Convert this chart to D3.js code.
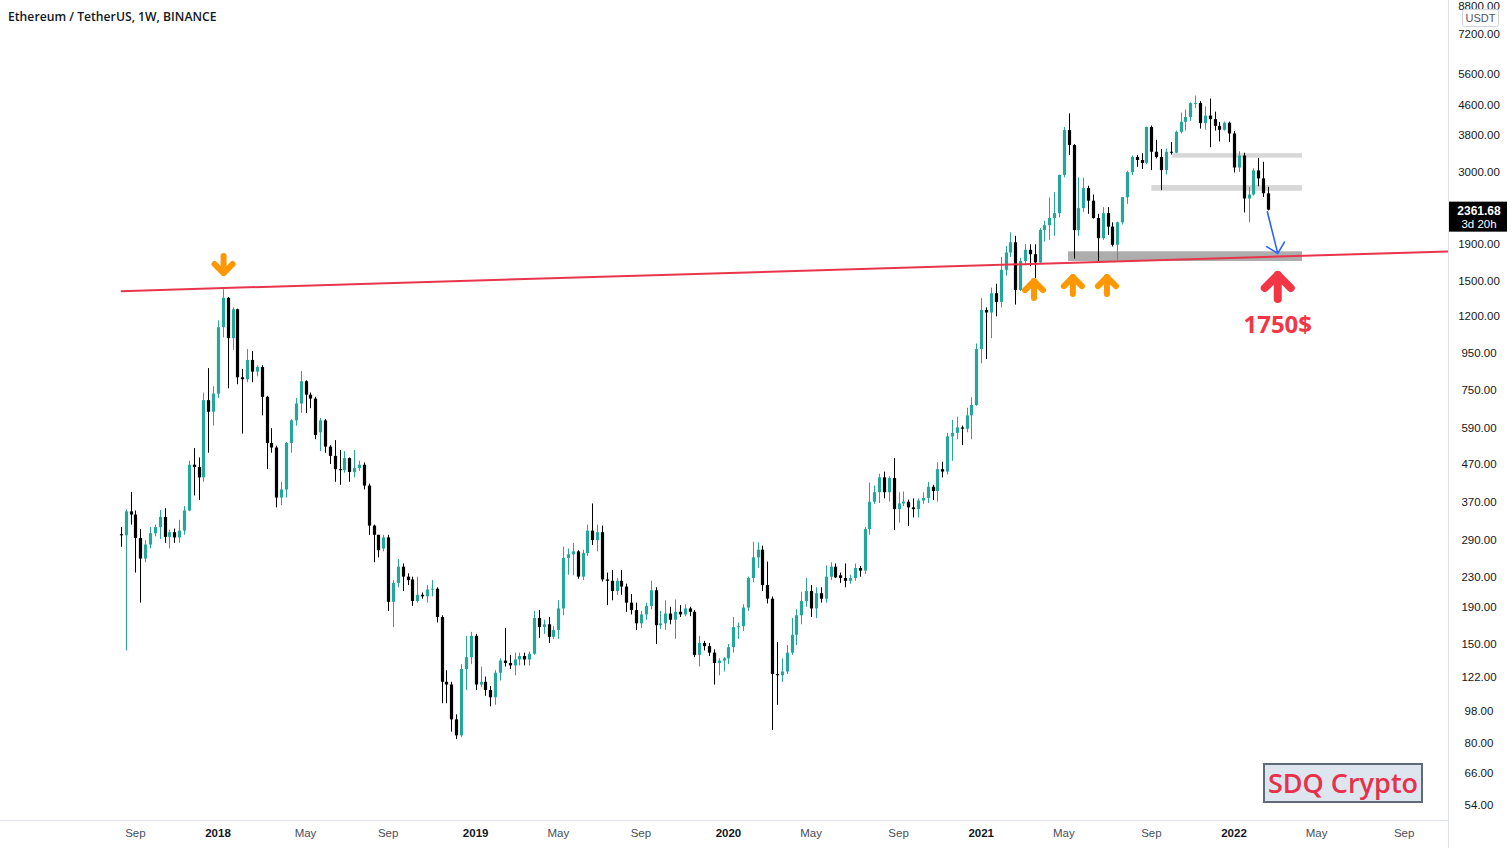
<!DOCTYPE html>
<html><head><meta charset="utf-8">
<script src="https://cdn.jsdelivr.net/npm/d3@7"></script>
<style>html,body{margin:0;padding:0;background:#fff;overflow:hidden}svg{display:block}</style>
</head><body>
<svg id="chart" width="1512" height="848"></svg>
<script>
// ---------------- DATA ----------------
const chartTitle = "Ethereum / TetherUS, 1W, BINANCE";
const firstWeek = "2017-08-14";           // Monday of the first weekly candle
// weekly candles [open, high, low, close], consecutive weeks
const candles2017 = [
 [301,315,278,299],[299,352,144,348],[348,394,320,341],[341,350,236,294],[294,311,195,258],
 [258,290,252,282],[282,315,275,303],[303,320,297,315],[315,351,292,336],[336,355,285,296],
 [296,310,275,305],[305,312,285,295],[295,330,285,308],[308,360,300,350],[350,480,348,468],
 [468,520,385,461],[461,490,374,432],[432,740,420,705],[705,864,505,655],[655,770,600,735]];
const candles2018 = [
 [735,1170,715,1120],[1120,1425,1050,1350],[1350,1355,760,1045],[1045,1270,970,1255],[1255,1260,780,815],
 [815,860,570,805],[805,975,790,910],[910,963,790,845],[845,880,820,870],[870,880,640,720],
 [720,725,455,537],[537,590,505,522],[522,528,357,380],[380,420,362,400],[400,540,380,537],
 [537,625,505,620],[620,715,600,690],[690,848,650,795],[795,800,650,730],[730,740,670,712],
 [712,720,550,565],[575,630,510,620],[620,625,505,525],[525,530,470,495],[495,547,420,455],
 [455,514,412,452],[452,510,445,488],[488,490,420,447],[447,514,432,458],[458,480,450,468],
 [468,475,400,410],[410,415,300,318],[318,320,252,300],[300,300,260,272],[275,300,270,295],
 [295,300,185,196],[196,225,167,221],[221,257,215,245],[245,250,210,230],[230,235,218,225],
 [226,230,191,197],[197,230,195,205],[205,208,200,203],[203,218,195,212],[212,225,203,213],
 [213,215,172,178],[178,180,103,118],[118,127,103,116],[116,118,86,93],[93,96,82,84],
 [84,132,83,128],[128,158,112,138],[138,162,132,158]];
const candles2019 = [
 [158,160,112,116],[116,130,114,118],[118,122,108,112],[112,115,101,107],[107,127,102,125],
 [125,137,119,135],[135,166,130,133],[133,140,128,131],[131,142,123,136],[136,142,131,139],
 [139,142,131,136],[136,143,131,141],[141,185,140,177],[177,186,156,167],[167,175,160,170],
 [170,178,151,157],[157,168,155,164],[164,198,155,188],[188,278,180,259],[259,275,233,265],
 [265,285,232,270],[270,272,227,230],[230,273,225,267],[267,320,262,308],[308,366,281,290],
 [290,320,270,305],[305,318,223,226],[226,236,192,224],[224,240,198,210],[210,228,205,224],
 [224,240,205,216],[216,220,184,195],[195,206,181,186],[186,195,164,171],[171,185,166,181],
 [181,195,175,191],[191,224,187,211],[211,215,150,169],[169,185,165,171],[171,198,164,182],
 [182,190,170,175],[175,199,155,184],[184,192,178,181],[181,193,179,188],[188,190,179,184],
 [184,186,138,140],[140,158,130,151],[151,153,144,148],[148,151,139,142],[142,145,116,133],
 [133,137,123,135],[135,138,126,137]];
const candles2020 = [
 [137,150,132,147],[147,178,142,167],[167,172,155,168],[168,193,163,189],[189,230,185,228],
 [228,287,222,260],[260,286,243,273],[273,280,210,218],[218,253,194,200],[200,203,87,124],
 [124,152,102,123],[123,137,118,126],[126,149,124,142],[142,177,140,159],[159,187,149,180],
 [180,209,170,197],[197,228,190,210],[210,218,178,188],[188,215,177,207],[207,215,195,200],
 [200,247,195,230],[230,252,225,245],[245,250,228,229],[232,236,221,228],[228,250,215,224],
 [224,233,220,228],[228,250,224,243],[243,246,230,239],[239,315,234,311],[311,418,300,370],
 [370,410,365,393],[393,442,367,432],[432,448,378,393],[393,435,370,430],[430,488,309,353],
 [353,393,324,366],[366,395,360,370],[370,375,317,357],[357,378,335,353],[353,378,335,373],
 [373,393,365,379],[379,420,367,407],[407,412,374,396],[396,475,370,455],[455,477,432,448],
 [448,573,440,560],[560,622,480,573],[573,635,550,593],[593,600,530,588],[588,672,575,640],
 [640,718,550,684],[684,1010,680,975]];
const candles2021 = [
 [975,1347,890,1250],[1250,1270,915,1230],[1230,1440,1045,1390],[1390,1476,1200,1315],[1315,1750,1270,1612],
 [1612,1875,1555,1800],[1800,2045,1750,1920],[1920,2000,1293,1418],[1418,1740,1410,1705],[1705,1900,1660,1830],
 [1830,1895,1650,1780],[1780,1895,1530,1690],[1690,2100,1680,2075],[2075,2200,1930,2140],[2140,2550,1950,2240],
 [2240,2640,2000,2310],[2310,2950,2250,2944],[2944,3990,2900,3913],[3913,4350,3340,3560],[3560,3580,1730,2074],
 [2074,2900,2000,2385],[2385,2890,2330,2707],[2707,2750,2300,2500],[2500,2600,2230,2240],[2240,2300,1700,1970],
 [1970,2400,1950,2310],[2310,2400,2010,2120],[2120,2180,1870,1890],[1890,2190,1718,2180],[2180,2560,2150,2556],
 [2556,3020,2450,2996],[2996,3330,2940,3300],[3300,3340,3100,3236],[3236,3380,3060,3178],[3178,4000,3150,3990],
 [3990,4030,3035,3410],[3410,3680,3270,3300],[3300,3470,2673,3035],[3035,3480,2950,3410],[3410,3630,3350,3390],
 [3390,3900,3380,3870],[3870,4375,3830,4125],[4125,4460,3900,4250],[4250,4665,4150,4643],[4643,4870,4500,4650],
 [4650,4700,3950,4090],[4090,4550,3920,4290],[4290,4780,3510,4195],[4195,4400,3900,4020],[4020,4120,3640,3920],
 [3920,4130,3900,4100],[4100,4130,3630,3830]];
const candles2022 = [
 [3830,3890,2990,3085],[3085,3420,3000,3330],[3330,3390,2320,2535],[2535,2730,2180,2600],[2600,3070,2580,3030],
 [3030,3280,2740,2880],[2880,3200,2560,2620],[2620,2730,2350,2361.68]];

const priceTicks = [8800,7200,5600,4600,3800,3000,1900,1500,1200,950,750,590,470,370,290,230,190,150,122,98,80,66,54];
const timeTickDates  = ["2017-09-04","2018-01-01","2018-05-07","2018-09-03","2019-01-07","2019-05-06","2019-09-02","2020-01-06","2020-05-04","2020-09-07","2021-01-04","2021-05-03","2021-09-06","2022-01-03","2022-05-02","2022-09-05"];
const timeTickLabels = ["Sep","2018","May","Sep","2019","May","Sep","2020","May","Sep","2021","May","Sep","2022","May","Sep"];
const currencyLabel = "USDT";
const lastPrice = 2361.68;
const barCountdown = "3d 20h";

// annotations in data units
const trendAnchorDates  = ["2017-08-14","2022-02-21"];
const trendAnchorPrices = [1408, 1750];
const zoneDates  = [["2021-10-06","2022-04-11"],["2021-09-06","2022-04-11"],["2021-05-09","2022-04-11"]];
const zonePrices = [[3285,3380],[2662,2760],[1705,1813]];
const downArrowDates = ["2018-01-09"];  const downArrowPrices = [1550];
const upArrowDates   = ["2021-03-21","2021-05-16","2021-07-04"]; const upArrowPrices = [1530,1569,1569];
const targetArrowDate = "2022-03-07"; const targetArrowPrice = 1600;
const targetLabel = "1750$"; const targetLabelPrice = 1080;
const projectionDates = ["2022-02-20","2022-03-07"]; const projectionPrices = [2330,1790];
const watermark = "SDQ Crypto";

// ---------------- CHART ----------------
const W = 1512, H = 848, plotRight = 1448, plotBottom = 820;
const parse = d3.utcParse("%Y-%m-%d");
const svg = d3.select("#chart");
svg.append("rect").attr("width",W).attr("height",H).attr("fill","#ffffff");

const allCandles = [].concat(candles2017,candles2018,candles2019,candles2020,candles2021,candles2022);
const t0 = parse(firstWeek);
const data = allCandles.map((c,i)=>({date:d3.utcDay.offset(t0,7*i),o:c[0],h:c[1],l:c[2],c:c[3]}));

const x = d3.scaleUtc().domain([parse("2017-08-14"), parse("2022-01-03")]).range([120.8, 1234]);
const y = d3.scaleLog().domain([54, 7200]).range([805, 34]);

svg.append("defs").append("clipPath").attr("id","plot")
  .append("rect").attr("x",0).attr("y",0).attr("width",plotRight).attr("height",plotBottom);
const plot = svg.append("g").attr("clip-path","url(#plot)");

// zones
const zoneFill = ["#d3d3d3","#d3d3d3","#a9a9a9"];
zoneDates.forEach((zd,i)=>{
  const x0 = x(parse(zd[0])), x1 = x(parse(zd[1]));
  const y0 = y(zonePrices[i][1]), y1 = y(zonePrices[i][0]);
  plot.append("rect").attr("x",x0).attr("y",y0).attr("width",x1-x0).attr("height",y1-y0)
    .attr("fill",zoneFill[i]).attr("opacity",i===2?0.95:0.9);
});

// candles
const up = "#26a69a", down = "#000000", bodyW = 3.2;
const cg = plot.append("g");
cg.selectAll("line").data(data).join("line")
  .attr("x1",d=>Math.round(x(d.date))+0.5).attr("x2",d=>Math.round(x(d.date))+0.5)
  .attr("y1",d=>y(d.h)).attr("y2",d=>y(d.l))
  .attr("stroke",d=>d.c>=d.o?up:down).attr("stroke-width",1);
cg.selectAll("rect").data(data).join("rect")
  .attr("x",d=>Math.round(x(d.date))+0.5-bodyW/2)
  .attr("width",bodyW)
  .attr("y",d=>y(Math.max(d.o,d.c)))
  .attr("height",d=>Math.max(1,Math.abs(y(d.o)-y(d.c))))
  .attr("fill",d=>d.c>=d.o?up:down);

// trend line (straight on log scale), extended to the right edge
const ta = trendAnchorDates.map(parse);
const lp = trendAnchorPrices.map(Math.log);
const priceAt = t => Math.exp(lp[0] + (lp[1]-lp[0])*(t-ta[0])/(ta[1]-ta[0]));
const tEnd = x.invert(plotRight);
plot.append("line")
  .attr("x1",x(ta[0])).attr("y1",y(priceAt(ta[0])))
  .attr("x2",x(tEnd)).attr("y2",y(priceAt(tEnd)))
  .attr("stroke","#e8354c").attr("stroke-width",2);

// arrows
function arrow(g, cx, tipY, dir, w, h, sw, color){
  const s = dir; // +1: pointing up, -1: pointing down
  const tip = tipY + s*sw/2;
  const base = tipY + s*(h - sw/2);
  const arm = tipY + s*(w/2);
  g.append("line").attr("x1",cx).attr("y1",tip).attr("x2",cx).attr("y2",base)
    .attr("stroke",color).attr("stroke-width",sw).attr("stroke-linecap","round");
  g.append("path").attr("d",`M${cx-w/2+sw/2},${arm}L${cx},${tip}L${cx+w/2-sw/2},${arm}`)
    .attr("fill","none").attr("stroke",color).attr("stroke-width",sw)
    .attr("stroke-linecap","round").attr("stroke-linejoin","round");
}
const ag = svg.append("g");
downArrowDates.forEach((d,i)=>arrow(ag, x(parse(d)), y(downArrowPrices[i]), -1, 24, 23, 6, "#ff9800"));
upArrowDates.forEach((d,i)=>arrow(ag, x(parse(d)), y(upArrowPrices[i]), 1, 24, 23, 6, "#ff9800"));
arrow(ag, x(parse(targetArrowDate)), y(targetArrowPrice), 1, 34, 32, 8, "#f23645");
ag.append("text").attr("x",x(parse(targetArrowDate))).attr("y",y(targetLabelPrice))
  .attr("text-anchor","middle").attr("font-family","Open Sans, sans-serif").attr("font-weight",700)
  .attr("font-size",24).attr("fill","#f23645").text(targetLabel);

// projection arrow
{
  const xa = x(parse(projectionDates[0])), ya = y(projectionPrices[0]);
  const xb = x(parse(projectionDates[1])), yb = y(projectionPrices[1]);
  const ang = Math.atan2(ya-yb, xa-xb), L = 13, sp = 45*Math.PI/180;
  ag.append("path")
    .attr("d",`M${xa},${ya}L${xb},${yb}M${xb+L*Math.cos(ang-sp)},${yb+L*Math.sin(ang-sp)}L${xb},${yb}L${xb+L*Math.cos(ang+sp)},${yb+L*Math.sin(ang+sp)}`)
    .attr("fill","none").attr("stroke","#2962ff").attr("stroke-width",1.6).attr("stroke-linecap","round");
}

// axes frame
svg.append("line").attr("x1",0).attr("x2",plotRight).attr("y1",plotBottom+0.5).attr("y2",plotBottom+0.5)
  .attr("stroke","#e0e3eb");
svg.append("line").attr("x1",plotRight+0.5).attr("x2",plotRight+0.5).attr("y1",0).attr("y2",H)
  .attr("stroke","#e0e3eb");

// price axis (topmost label nudged just inside the window)
const ya = svg.append("g").attr("font-family","Liberation Sans, Arial, sans-serif").attr("font-size",11.5).attr("fill","#131722");
ya.selectAll("text").data(priceTicks).join("text")
  .attr("x",1479).attr("y",d=>Math.max(6,y(d))).attr("dy","0.35em").attr("text-anchor","middle")
  .text(d=>d3.format(".2f")(d));
// currency box
svg.append("rect").attr("x",1462.5).attr("y",9.5).attr("width",36).attr("height",17).attr("rx",2)
  .attr("fill","#ffffff").attr("stroke","#d1d4dc");
svg.append("text").attr("x",1480.5).attr("y",22).attr("text-anchor","middle")
  .attr("font-family","Liberation Sans, Arial, sans-serif").attr("font-size",11).attr("fill","#50535e").text(currencyLabel);
// last price tag
{
  const py = y(lastPrice);
  svg.append("rect").attr("x",plotRight+1).attr("y",py-8).attr("width",58).attr("height",30).attr("fill","#000");
  svg.append("text").attr("x",1479).attr("y",py+5).attr("text-anchor","middle")
    .attr("font-family","Liberation Sans, Arial, sans-serif").attr("font-weight",700).attr("font-size",12)
    .attr("fill","#fff").text(d3.format(".2f")(lastPrice));
  svg.append("text").attr("x",1479).attr("y",py+18.5).attr("text-anchor","middle")
    .attr("font-family","Liberation Sans, Arial, sans-serif").attr("font-size",11.5)
    .attr("fill","#fff").text(barCountdown);
}

// time axis
const xa = svg.append("g").attr("font-family","Liberation Sans, Arial, sans-serif").attr("font-size",11.5);
xa.selectAll("text").data(timeTickDates).join("text")
  .attr("x",d=>x(parse(d))).attr("y",837).attr("text-anchor","middle")
  .attr("fill",(d,i)=>/^\d{4}$/.test(timeTickLabels[i])?"#131722":"#4a4e59")
  .attr("font-weight",(d,i)=>/^\d{4}$/.test(timeTickLabels[i])?600:400)
  .text((d,i)=>timeTickLabels[i]);

// title
svg.append("text").attr("x",8).attr("y",20.5).attr("font-family","Open Sans, sans-serif")
  .attr("font-weight",600).attr("font-size",12.2).attr("fill","#131722").text(chartTitle);

// watermark box
svg.append("rect").attr("x",1264).attr("y",764).attr("width",158).attr("height",38)
  .attr("fill","#dde6ef").attr("stroke","#5d6b7a").attr("stroke-width",2);
svg.append("text").attr("x",1343).attr("y",793).attr("text-anchor","middle")
  .attr("font-family","Open Sans, sans-serif").attr("font-weight",600).attr("font-size",27)
  .attr("fill","#e8304a").text(watermark);
</script>
</body></html>
